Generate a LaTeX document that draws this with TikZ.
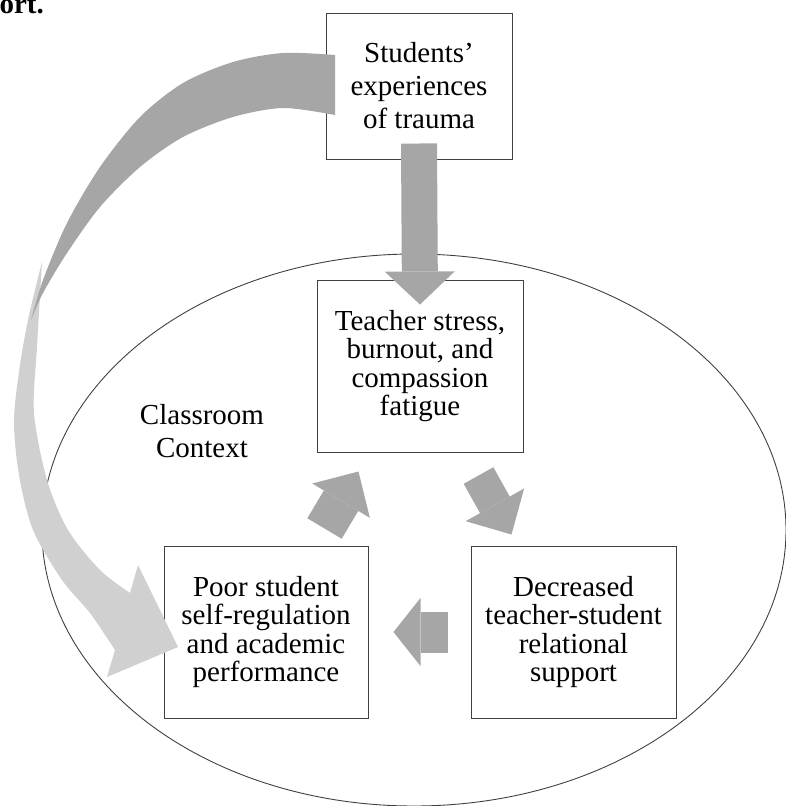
\documentclass[tikz,border=0pt]{standalone}
\usepackage{fontspec}
\setmainfont{Liberation Serif}
\usetikzlibrary{arrows.meta,calc}
\definecolor{arrdark}{HTML}{A6A6A6}
\definecolor{arrlight}{HTML}{D0D0D0}
\definecolor{edge}{HTML}{404040}
\begin{document}
\begin{tikzpicture}[x=1pt, y=-1pt,
box/.style={draw=edge, line width=1pt, fill=white, minimum width=#1,
  minimum height=172pt, inner sep=0pt, align=center,
  font=\fontsize{29}{28.5}\selectfont},
fat/.style n args={3}{draw=arrdark, line width=#1,
  -{Triangle[width=#2, length=#3, line width=0pt]}}]
\useasboundingbox (0,0) rectangle (786,806);
\node[font=\bfseries\fontsize{29}{30}\selectfont, anchor=base east, inner sep=0pt]
  (cap) at (44,13) {ort.};
\draw[edge, line width=0.9pt] (414,530) ellipse [x radius=372, y radius=276];
%
\node[box=186pt, minimum height=146pt, font=\fontsize{29}{33}\selectfont]
  (trauma) at (419,86) {Students’\\experiences\\of trauma};
\node[box=206pt] (stress) at (420,366) {Teacher stress,\\burnout, and\\compassion\\fatigue};
\node[box=204pt] (poor) at (266,632) {Poor student\\self-regulation\\and academic\\performance};
\node[box=205pt] (rel) at (573.5,632) {Decreased\\teacher-student\\relational\\support};
\node[font=\fontsize{29}{33}\selectfont, align=center] (ctx) at (202,431) {Classroom\\Context};
%
% curved arrow: light front part, then dark back part on top
\fill[arrlight] plot[smooth] coordinates {(42,262) (35,290) (28,320) (20,365) (14,420)
  (19,475) (33,530) (62,580) (90,613) (115,650)}
  -- (107,677) -- (178,647) -- (138,565) -- (130,593)
  -- plot[smooth] coordinates {(130,593) (100,570) (68,530) (47,480) (34,413)
  (37,347) (42,262)} -- cycle;
\fill[arrdark] plot[smooth] coordinates {(335,55) (283,53) (233,62) (183,83) (140,117)
  (100,167) (67,223) (43,280) (31,320)}
  -- plot[smooth] coordinates {(31,320) (43,293) (67,253) (100,207) (140,167)
  (183,137) (233,117) (283,108) (335,115)} -- cycle;
%
\draw[fat={36pt}{70pt}{33pt}] ($(trauma.south)+(0,-16)$) -- ($(stress.north)+(0,25)$);
\draw[fat={40pt}{67pt}{34pt}] ($(poor.north east)+(-44,-17)$) -- ($(stress.south west)+(42,19)$);
\draw[fat={34pt}{67pt}{34pt}] ($(stress.south east)+(-45,23)$) -- ($(rel.north west)+(41,-11)$);
\draw[fat={41pt}{68pt}{27pt}] ($(rel.west)+(-23,0)$) -- ($(poor.east)+(25,0)$);
\end{tikzpicture}
\end{document}
